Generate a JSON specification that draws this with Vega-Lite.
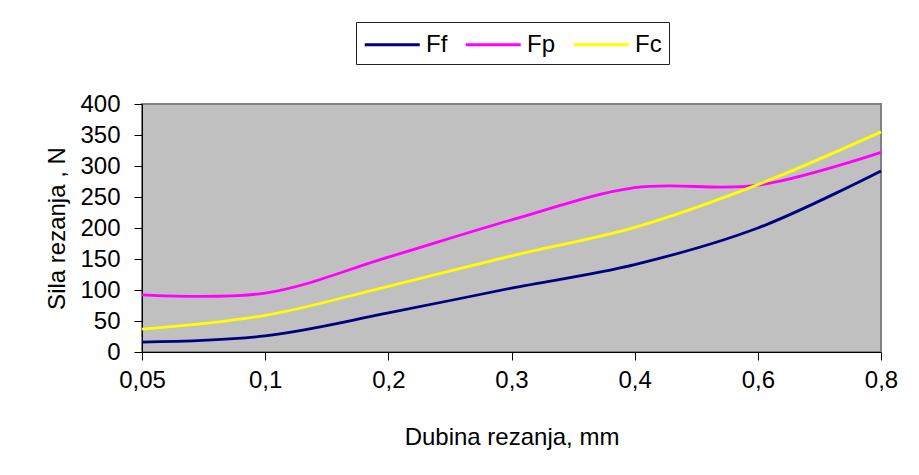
{
  "$schema": "https://vega.github.io/schema/vega-lite/v6.json",
  "width": 739,
  "height": 248,
  "autosize": {"type": "none"},
  "padding": {"left": 142, "top": 104, "right": 38, "bottom": 123},
  "background": "white",
  "config": {
    "font": "Liberation Sans",
    "view": {"fill": "#C0C0C0", "stroke": "#808080", "strokeWidth": 2},
    "axis": {"labelFont": "Liberation Sans", "titleFont": "Liberation Sans", "labelColor": "black", "titleColor": "black", "domainColor": "black", "tickColor": "black", "grid": false, "titleFontWeight": "normal"}
  },
  "data": {
    "values": [
      {"d": "0,05", "s": "Ff", "v": 16},
      {"d": "0,1", "s": "Ff", "v": 26},
      {"d": "0,2", "s": "Ff", "v": 63},
      {"d": "0,3", "s": "Ff", "v": 103},
      {"d": "0,4", "s": "Ff", "v": 141},
      {"d": "0,6", "s": "Ff", "v": 200},
      {"d": "0,8", "s": "Ff", "v": 292},
      {"d": "0,05", "s": "Fp", "v": 92},
      {"d": "0,1", "s": "Fp", "v": 95},
      {"d": "0,2", "s": "Fp", "v": 153},
      {"d": "0,3", "s": "Fp", "v": 213},
      {"d": "0,4", "s": "Fp", "v": 265},
      {"d": "0,6", "s": "Fp", "v": 269},
      {"d": "0,8", "s": "Fp", "v": 322},
      {"d": "0,05", "s": "Fc", "v": 37},
      {"d": "0,1", "s": "Fc", "v": 59},
      {"d": "0,2", "s": "Fc", "v": 106},
      {"d": "0,3", "s": "Fc", "v": 155},
      {"d": "0,4", "s": "Fc", "v": 201},
      {"d": "0,6", "s": "Fc", "v": 270},
      {"d": "0,8", "s": "Fc", "v": 355}
    ]
  },
  "mark": {"type": "line", "interpolate": "catmull-rom", "strokeWidth": 2.8},
  "encoding": {
    "x": {
      "field": "d", "type": "ordinal",
      "sort": ["0,05", "0,1", "0,2", "0,3", "0,4", "0,6", "0,8"],
      "scale": {"type": "point", "padding": 0},
      "axis": {"title": "Dubina rezanja, mm", "labelAngle": 0, "labelFontSize": 24, "titleFontSize": 24, "tickSize": 8, "labelPadding": 8, "titlePadding": 33, "domainWidth": 1}
    },
    "y": {
      "field": "v", "type": "quantitative",
      "scale": {"domain": [0, 400], "nice": false},
      "axis": {"title": "Sila rezanja , N", "values": [0, 50, 100, 150, 200, 250, 300, 350, 400], "labelFontSize": 24, "titleFontSize": 24, "tickSize": 8, "labelPadding": 14, "titlePadding": 10}
    },
    "color": {
      "field": "s", "type": "nominal",
      "sort": ["Ff", "Fp", "Fc"],
      "scale": {"domain": ["Ff", "Fp", "Fc"], "range": ["#000080", "#FF00FF", "#FFFF00"]},
      "legend": {
        "title": null, "orient": "none", "legendX": 214, "legendY": -82,
        "direction": "horizontal", "columns": 3,
        "symbolType": "M-1,0H3", "symbolSize": 756, "symbolStrokeWidth": 2.8,
        "labelFontSize": 24, "labelColor": "black", "labelFont": "Liberation Sans",
        "strokeColor": "#222222", "padding": 7, "columnPadding": 12, "labelOffset": 32
      }
    }
  }
}
